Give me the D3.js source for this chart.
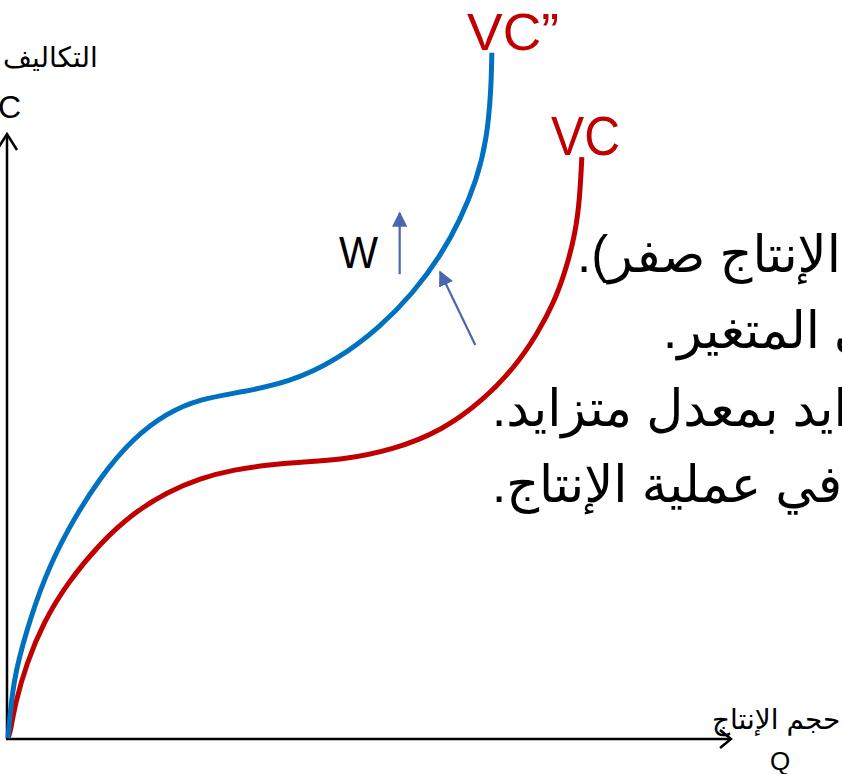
<!DOCTYPE html>
<html><head><meta charset="utf-8">
<script src="https://cdn.jsdelivr.net/npm/d3@7"></script>
<style>html,body{margin:0;padding:0;background:#fff;overflow:hidden}svg{display:block}</style>
</head><body>
<svg id="c" width="842" height="774"></svg>
<script>
// Data (output quantity Q, cost)
const vcQ  = [0, 0.3, 1.0, 2.6, 4.9, 8.2, 12.8, 17.4, 22.1, 26.7, 31.3, 36.0, 40.6, 46.1, 53.5, 60.4, 66.0, 70.4, 73.6, 76.0, 77.6, 78.8, 79.4, 79.7];
const vcC  = [0, 0.8, 5.8, 12.5, 19.2, 25.8, 32.5, 37.5, 41.0, 43.3, 44.7, 45.5, 46.0, 46.3, 48.0, 51.3, 56.3, 61.8, 67.5, 73.0, 78.5, 84.2, 89.7, 96.8];
const vc2Q = [0, 0.7, 2.6, 4.9, 8.2, 12.8, 17.4, 22.1, 26.7, 32.2, 39.2, 45.7, 51.7, 56.3, 60.0, 62.8, 65.1, 66.5, 67.1, 67.2];
const vc2C = [0, 9.7, 18.0, 26.3, 34.7, 43.5, 50.0, 54.2, 56.5, 57.6, 59.3, 63.0, 68.5, 74.2, 80.2, 86.3, 93.0, 99.7, 108.0, 114.2];
// shift arrows [fromQ, fromC, toQ, toC]
const shiftArrows = [[54.4, 77.3, 54.4, 87.5], [64.9, 65.5, 60.0, 77.7]];
const curveLabels = ["VC”", "VC"];
const yTitle = "التكاليف";
const yCode = "VC";
const xTitle = "حجم الإنتاج";
const xCode = "Q";
const shiftLabel = "W";
const notes = [
  "تكون التكاليف المتغيرة مساوية للصفر عندما يكون حجم الإنتاج صفر).",
  "تتغير التكاليف المتغيرة بتغير كمية العنصر الإنتاجي المتغير.",
  "تتزايد التكاليف المتغيرة بمعدل متناقص ثم تتزايد بمعدل متزايد.",
  "وذلك بسبب عمل قانون تناقص الغلة في عملية الإنتاج."
];

const svg = d3.select("#c");
const x = d3.scaleLinear().domain([0, 100]).range([8, 728]);
const y = d3.scaleLinear().domain([0, 120]).range([738, 18]);

// axes
const ax = svg.append("g").attr("stroke", "#000").attr("stroke-width", 2.5).attr("fill", "none");
ax.append("line").attr("x1", x(0)-1).attr("y1", y(0)+1).attr("x2", x(0)-1).attr("y2", 134);
ax.append("path").attr("d", `M${x(0)-11},150 L${x(0)-1},134 L${x(0)+9},150`);
ax.append("line").attr("x1", x(0)-2).attr("y1", y(0)+1).attr("x2", 731).attr("y2", y(0)+1);
ax.append("path").attr("d", `M720,${y(0)-8} L731,${y(0)+1} L720,${y(0)+10}`);

const line = d3.line().x(d => x(d[0])).y(d => y(d[1])).curve(d3.curveBasis);
const vcPts = vcQ.map((q, i) => [q, vcC[i]]);
const vc2Pts = vc2Q.map((q, i) => [q, vc2C[i]]);
svg.append("path").attr("d", line(vcPts)).attr("fill", "none").attr("stroke", "#C00000").attr("stroke-width", 5);
svg.append("path").attr("d", line(vc2Pts)).attr("fill", "none").attr("stroke", "#0070C0").attr("stroke-width", 5);

// arrow marker
svg.append("defs").append("marker").attr("id", "ah").attr("viewBox", "0 0 10 10")
  .attr("refX", 9).attr("refY", 5).attr("markerWidth", 7).attr("markerHeight", 7)
  .attr("markerUnits", "strokeWidth").attr("orient", "auto")
  .append("path").attr("d", "M0,0 L10,5 L0,10 Z").attr("fill", "#4A66AE");
svg.selectAll(".sa").data(shiftArrows).join("line").attr("class", "sa")
  .attr("x1", d => x(d[0])).attr("y1", d => y(d[1])).attr("x2", d => x(d[2])).attr("y2", d => y(d[3]))
  .attr("stroke", "#4A66AE").attr("stroke-width", 2.2).attr("marker-end", "url(#ah)");

const sans = "'Liberation Sans', Arial, 'DejaVu Sans', sans-serif";
// curve labels
svg.append("text").attr("x", 467).attr("y", 50).attr("font-family", sans).attr("font-size", 52)
  .attr("fill", "#C00000").attr("textLength", 92).attr("lengthAdjust", "spacingAndGlyphs").text(curveLabels[0]);
svg.append("text").attr("x", 551).attr("y", 155).attr("font-family", sans).attr("font-size", 55)
  .attr("fill", "#C00000").attr("textLength", 69).attr("lengthAdjust", "spacingAndGlyphs").text(curveLabels[1]);
svg.append("text").attr("x", 339).attr("y", 268).attr("font-family", sans).attr("font-size", 44)
  .attr("fill", "#000").attr("textLength", 39).attr("lengthAdjust", "spacingAndGlyphs").text(shiftLabel);

// axis titles
svg.append("text").attr("x", 3).attr("y", 67).attr("direction", "rtl").attr("text-anchor", "end")
  .attr("font-family", sans).attr("font-size", 28).attr("fill", "#000").text(yTitle);
svg.append("text").attr("x", 21).attr("y", 118).attr("text-anchor", "end")
  .attr("font-family", sans).attr("font-size", 32).attr("fill", "#000").text(yCode);
svg.append("text").attr("x", 712).attr("y", 729).attr("direction", "rtl").attr("text-anchor", "end")
  .attr("font-family", sans).attr("font-size", 28).attr("fill", "#000").text(xTitle);
svg.append("text").attr("x", 770).attr("y", 770)
  .attr("font-family", sans).attr("font-size", 26).attr("fill", "#000").text(xCode);

// notes (clipped at right edge)
const noteX = [577, 663, 492, 492];
const noteY = [272, 348, 426, 502];
svg.selectAll(".note").data(notes).join("text").attr("class", "note")
  .attr("x", (d, i) => noteX[i]).attr("y", (d, i) => noteY[i])
  .attr("direction", "rtl").attr("text-anchor", "end")
  .attr("font-family", sans).attr("font-size", 51).attr("fill", "#000").text(d => d);
</script>
</body></html>
